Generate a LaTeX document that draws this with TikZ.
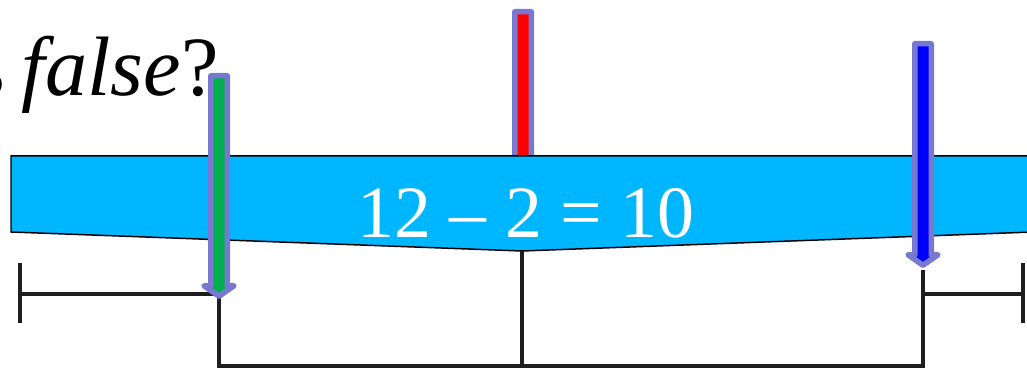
\documentclass[tikz,border=0pt]{standalone}
\usepackage{fontspec}
\setmainfont{Liberation Serif}
\usepackage{xcolor}
\definecolor{bandblue}{RGB}{0,182,255}
\definecolor{ptrrim}{RGB}{120,120,208}
\definecolor{ptrgreen}{RGB}{0,176,80}
\definecolor{ptrblue}{RGB}{0,0,255}
\definecolor{ptrred}{RGB}{255,0,0}
\definecolor{rangeink}{RGB}{30,30,30}
\usepackage{tikz}
\usetikzlibrary{calc}
\tikzset{
  band/.style={draw=black,line width=0.03cm,fill=bandblue},
  pointer/.style={draw=ptrrim,line width=0.11cm,line join=round,fill=#1},
  spanline/.style={draw=rangeink,line width=0.09cm},
  sumlabel/.style={text=white,font=\fontsize{42}{48}\selectfont,inner sep=0pt,anchor=base},
  question/.style={font=\fontsize{48}{54}\selectfont,inner sep=0pt,anchor=base east},
}
% down pointer: colour, x, top, wing row
\newcommand{\downptr}[4]{%
  \draw[pointer=#1] (#2-8.25,#3) -- (#2+8.25,#3) -- (#2+8.25,#4) -- (#2+15,#4)
    -- (#2,#4+10.5) -- (#2-15,#4) -- (#2-8.25,#4) -- cycle;}

\begin{document}
\begin{tikzpicture}[x=0.02cm,y=-0.02cm]
\useasboundingbox (0,0) rectangle (1027,371);
\clip (0,0) rectangle (1027,371);

% question text, cut at the left
\node[question] (ask) at (219,96) {s\hspace{0.2em}\textit{false}?};

% middle pointer, behind the band
\downptr{ptrred}{523}{11.75}{200}

% the band
\draw[band] (11,156) -- (1033,156) -- (1033,232) -- (522,251) -- (11,232) -- cycle;
\node[sumlabel] (sum) at (526,237) {12 – 2 = 10};

% ranges
\coordinate (lo) at (219,294);
\coordinate (mid) at (522,251);
\coordinate (hi) at (923,270);
\draw[spanline] (20,263) -- (20,323);
\draw[spanline] (20,294) -- (lo) -- (219,366) -- (923,366) -- (hi);
\draw[spanline] (923,294) -- (1023,294);
\draw[spanline] (1023,263) -- (1023,323);
\draw[spanline] (mid) -- (522,366);

% left and right pointers
\downptr{ptrgreen}{219}{75.75}{285.75}
\downptr{ptrblue}{923}{43.75}{254.75}
\end{tikzpicture}
\end{document}
